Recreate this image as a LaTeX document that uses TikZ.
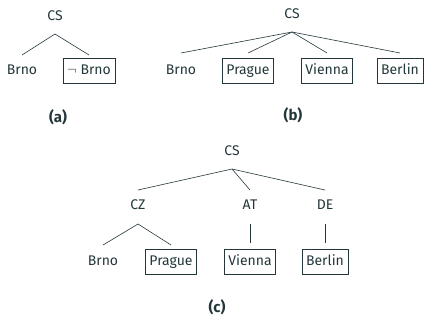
\documentclass[tikz,border=0pt]{standalone}
\usepackage{fontspec}
\setmainfont{Fira Sans}
\definecolor{ink}{HTML}{23373B}
\begin{document}
\begin{tikzpicture}[x=1pt, y=-1pt,
  every node/.style={font=\fontsize{14}{16}\selectfont, text=ink, inner sep=0pt,
    text height=11pt, text depth=4pt},
  leaf/.style={},
  boxed/.style={draw=ink, line width=0.6pt, inner xsep=4pt, inner ysep=5pt},
  caption/.style={font=\fontsize{15}{17}\selectfont\bfseries},
  edge/.style={draw=ink, line width=0.6pt}]
\useasboundingbox (0,0) rectangle (425,321);

% (a) a single root with Brno and its complement
\node (csA) at (55,17) {CS};
\node[leaf] (brnoA) at (22,71) {Brno};
\node[boxed] (notbrnoA) at (89,71) {$\neg$ Brno};
\node[caption] (capA) at (58,119) {(a)};
\draw[edge] ([yshift=-17pt]csA.center) -- ([yshift=16pt]brnoA.center);
\draw[edge] ([yshift=-17pt]csA.center) -- ([yshift=16pt]notbrnoA.center);

% (b) flat tree with four cities
\node (csB) at (292,15) {CS};
\node[leaf] (brnoB) at (181,71) {Brno};
\node[boxed] (pragueB) at (248,71) {Prague};
\node[boxed] (viennaB) at (327,71) {Vienna};
\node[boxed] (berlinB) at (400,71) {Berlin};
\node[caption] (capB) at (293,117) {(b)};
\foreach \c in {brnoB, pragueB, viennaB, berlinB}
  \draw[edge] ([yshift=-17pt]csB.center) -- ([yshift=18pt]\c.center);

% (c) tree grouped by country
\node (csC) at (232,152) {CS};
\node (cz) at (138,206) {CZ};
\node (at) at (250,206) {AT};
\node (de) at (325,206) {DE};
\node[leaf] (brnoC) at (103,262) {Brno};
\node[boxed] (pragueC) at (171,262) {Prague};
\node[boxed] (viennaC) at (250,262) {Vienna};
\node[boxed] (berlinC) at (325,262) {Berlin};
\node[caption] (capC) at (217,309) {(c)};
\foreach \c in {cz, at, de}
  \draw[edge] ([yshift=-17pt]csC.center) -- ([yshift=16pt]\c.center);
\draw[edge] ([yshift=-18pt]cz.center) -- ([yshift=17pt]brnoC.center);
\draw[edge] ([yshift=-18pt]cz.center) -- ([yshift=17pt]pragueC.center);
\draw[edge] ([yshift=-18pt]at.center) -- ([yshift=19pt]viennaC.center);
\draw[edge] ([yshift=-18pt]de.center) -- ([yshift=19pt]berlinC.center);
\end{tikzpicture}
\end{document}
